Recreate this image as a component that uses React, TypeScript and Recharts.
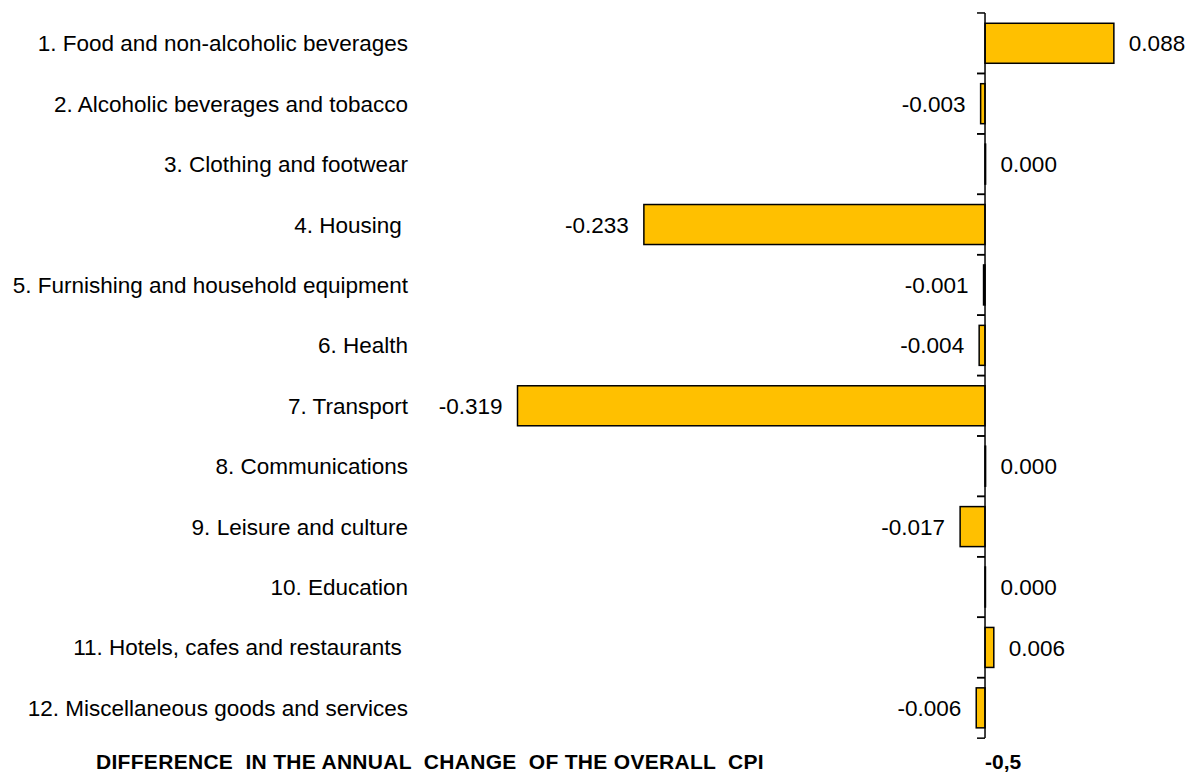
import React from "react";
import { BarChart, Bar, XAxis, YAxis, ReferenceLine, LabelList } from "recharts";

const categories = [
  "1. Food and non-alcoholic beverages",
  "2. Alcoholic beverages and tobacco",
  "3. Clothing and footwear",
  "4. Housing ",
  "5. Furnishing and household equipment",
  "6. Health",
  "7. Transport",
  "8. Communications",
  "9. Leisure and culture",
  "10. Education",
  "11. Hotels, cafes and restaurants ",
  "12. Miscellaneous goods and services",
];

const values = [0.088, -0.003, 0.0004, -0.233, -0.001, -0.004, -0.3193, 0.0004, -0.017, 0.0003, 0.006, -0.006];

const axisTicks = [0];
const axisTickLabels = ["-0,5"];
const axisTitle = "DIFFERENCE  IN THE ANNUAL  CHANGE  OF THE OVERALL  CPI";

const data = categories.map((name, i) => ({ name, value: values[i] }));

const FONT = "'Liberation Sans', Arial, Helvetica, sans-serif";
const GAP = 0.17;

const BarShape = (p: any) => {
  const { x, y, width, height } = p;
  const v = p.payload ? p.payload.value : 0;
  const left = Math.min(x, x + width);
  const w = Math.abs(width);
  const zero = v >= 0 ? left : left + w;
  const band = height / (1 - 2 * GAP);
  const cy = y + height / 2;
  const half = band / 2;
  return (
    <g>
      <rect x={left} y={y} width={w} height={height} fill="#FFC000" stroke="#000" strokeWidth={1.5} />
      <line x1={zero - 8} x2={zero} y1={cy - half} y2={cy - half} stroke="#000" strokeWidth={1.5} />
      <line x1={zero - 8} x2={zero} y1={cy + half} y2={cy + half} stroke="#000" strokeWidth={1.5} />
    </g>
  );
};

const ValueLabel = (props: any) => {
  const vb = props.viewBox && props.viewBox.width !== undefined ? props.viewBox : props;
  const v = Number(props.value);
  const l = Math.min(vb.x, vb.x + vb.width);
  const r = Math.max(vb.x, vb.x + vb.width);
  const cy = vb.y + vb.height / 2;
  const pos = v >= 0;
  return (
    <text
      x={pos ? r + 15 : l - 15}
      y={cy}
      dy="0.36em"
      textAnchor={pos ? "start" : "end"}
      fontFamily={FONT}
      fontSize={22.5}
      fill="#000"
    >
      {v.toFixed(3)}
    </text>
  );
};

const CatTick = (props: any) => {
  const { x, y, payload } = props;
  return (
    <text
      x={x}
      y={y}
      dy="0.36em"
      textAnchor="end"
      fontFamily={FONT}
      fontSize={22.5}
      fill="#000"
      style={{ whiteSpace: "pre" }}
    >
      {payload.value}
    </text>
  );
};

const XTick = (props: any) => {
  const { x, y, payload } = props;
  const idx = axisTicks.indexOf(payload.value);
  return (
    <text x={x} y={y + 31} textAnchor="start" fontFamily={FONT} fontSize={21} fontWeight="bold" fill="#000">
      {axisTickLabels[idx]}
    </text>
  );
};

const XTitle = (props: any) => {
  const vb = props.viewBox || {};
  return (
    <text
      x={96}
      y={(vb.y || 738) + 31}
      textAnchor="start"
      fontFamily={FONT}
      fontSize={21}
      fontWeight="bold"
      fill="#000"
      style={{ whiteSpace: "pre" }}
      letterSpacing={0.3}
    >
      {axisTitle}
    </text>
  );
};

export default function App() {
  return (
    <div style={{ position: "absolute", left: 0, top: 0, background: "#fff" }}>
      <BarChart
        width={1193}
        height={776}
        data={data}
        layout="vertical"
        margin={{ top: 13, right: 3, bottom: 0, left: 0 }}
        barCategoryGap={`${GAP * 100}%`}
      >
        <XAxis
          type="number"
          domain={[-0.39, 0.14]}
          ticks={axisTicks}
          axisLine={false}
          tickLine={false}
          tickSize={0}
          tickMargin={0}
          height={38}
          tick={<XTick />}
          label={<XTitle />}
          allowDataOverflow
        />
        <YAxis
          type="category"
          dataKey="name"
          width={414}
          axisLine={false}
          tickLine={false}
          tickSize={0}
          tickMargin={6}
          interval={0}
          tick={<CatTick />}
        />
        <Bar dataKey="value" isAnimationActive={false} shape={<BarShape />}>
          <LabelList dataKey="value" content={<ValueLabel />} />
        </Bar>
        <ReferenceLine x={0} stroke="#000" strokeWidth={1.5} ifOverflow="visible" />
      </BarChart>
    </div>
  );
}
